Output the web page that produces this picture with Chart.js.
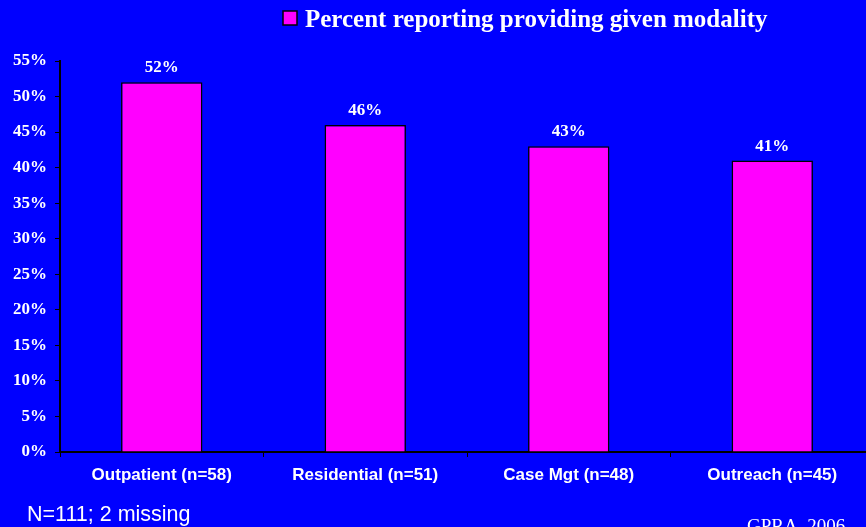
<!DOCTYPE html>
<html>
<head>
<meta charset="utf-8">
<script src="https://cdn.jsdelivr.net/npm/chart.js@4"></script>
<style>
  html, body { margin: 0; padding: 0; background: #0000ff; overflow: hidden; }
  #clip { width: 866px; height: 527px; overflow: hidden; }
  #wrap { width: 874px; height: 527px; position: relative; }
</style>
</head>
<body>
<div id="clip"><div id="wrap"><canvas id="modalityChart"></canvas></div></div>
<script>
// Data
const categories = ['Outpatient (n=58)', 'Residential (n=51)', 'Case Mgt (n=48)', 'Outreach (n=45)'];
const percentValues = [52, 46, 43, 41];
const seriesLabel = 'Percent reporting providing given modality';
const footnote = 'N=111; 2 missing';
const sourceNote = 'GPRA  2006';

const serifBold = 'bold 17px "Liberation Serif", "Times New Roman", serif';

// Data labels above bars + legend + footer text
const extrasPlugin = {
    id: 'extras',
    afterDatasetsDraw(chart) {
        const ctx = chart.ctx;
        const meta = chart.getDatasetMeta(0);
        ctx.save();
        ctx.fillStyle = '#ffffff';
        ctx.font = serifBold;
        ctx.textAlign = 'center';
        ctx.textBaseline = 'alphabetic';
        meta.data.forEach((bar, i) => {
            ctx.fillText(percentValues[i] + '%', bar.x, bar.y - 10);
        });

        // legend
        ctx.fillStyle = '#ff00ff';
        ctx.fillRect(283, 11, 14, 14);
        ctx.strokeStyle = '#000000';
        ctx.lineWidth = 1.5;
        ctx.strokeRect(283, 11, 14, 14);
        ctx.fillStyle = '#ffffff';
        ctx.font = 'bold 25px "Liberation Serif", "Times New Roman", serif';
        ctx.textAlign = 'left';
        ctx.fillText(seriesLabel, 305, 27);

        // footnotes
        ctx.font = '21.5px "Liberation Sans", Arial, sans-serif';
        ctx.fillText(footnote, 27, 521);
        ctx.font = '19px "Liberation Serif", "Times New Roman", serif';
        ctx.fillText(sourceNote, 747, 532);
        ctx.restore();
    }
};

new Chart(document.getElementById('modalityChart'), {
    type: 'bar',
    data: {
        labels: categories,
        datasets: [{
            label: seriesLabel,
            data: percentValues,
            backgroundColor: '#ff00ff',
            borderColor: '#000000',
            borderWidth: 1.5,
            borderSkipped: 'bottom',
            categoryPercentage: 1,
            barPercentage: 0.4
        }]
    },
    options: {
        responsive: true,
        maintainAspectRatio: false,
        animation: false,
        layout: { padding: { top: 61, right: 0, left: 0, bottom: 0 } },
        plugins: {
            legend: { display: false },
            tooltip: { enabled: false }
        },
        scales: {
            x: {
                offset: true,
                grid: {
                    offset: true,
                    drawOnChartArea: false,
                    drawTicks: true,
                    tickLength: 5,
                    color: '#000000'
                },
                border: { color: '#000000', width: 2 },
                ticks: {
                    color: '#ffffff',
                    padding: 8,
                    maxRotation: 0,
                    font: { family: '"Liberation Sans", Arial, sans-serif', size: 17, weight: 'bold' }
                },
                afterFit: scale => { scale.height = 75; }
            },
            y: {
                min: 0,
                max: 55,
                grid: {
                    drawOnChartArea: false,
                    drawTicks: true,
                    tickLength: 5,
                    color: '#000000'
                },
                border: { color: '#000000', width: 2 },
                ticks: {
                    stepSize: 5,
                    color: '#ffffff',
                    padding: 8,
                    font: { family: '"Liberation Serif", "Times New Roman", serif', size: 17, weight: 'bold' },
                    callback: v => v + '%'
                },
                afterFit: scale => { scale.width = 60; }
            }
        }
    },
    plugins: [extrasPlugin]
});
</script>
</body>
</html>
